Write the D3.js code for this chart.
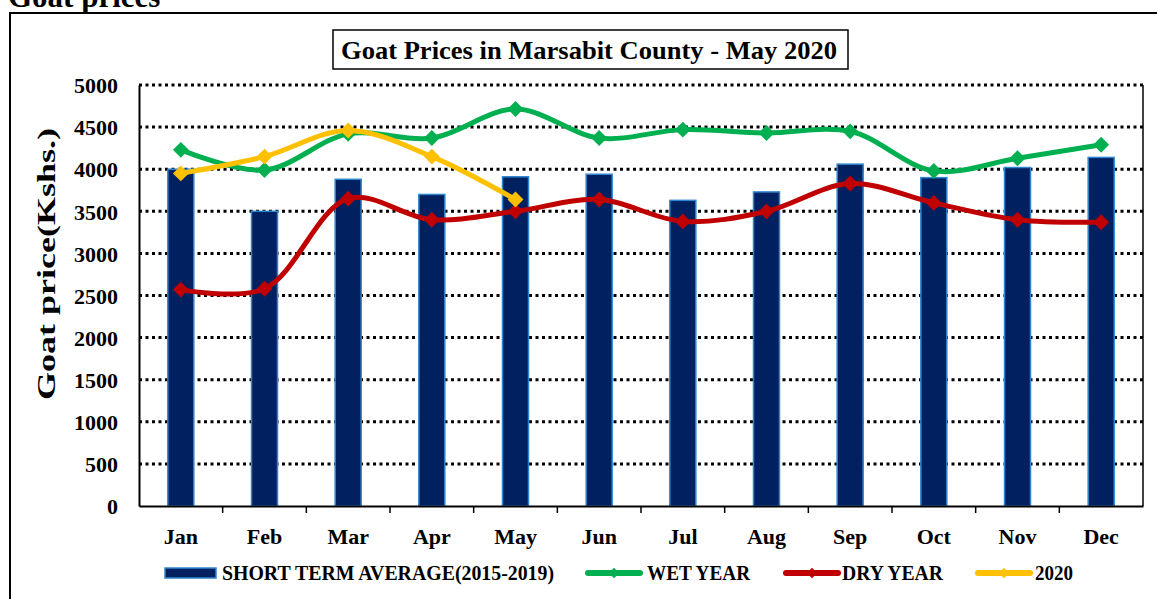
<!DOCTYPE html>
<html lang="en">
<head>
<meta charset="UTF-8" />
<title>Goat prices</title>
<script src="https://cdn.jsdelivr.net/npm/d3@7"></script>
<style>
  body { margin: 0; background: #fff; }
  text { font-family: "Liberation Serif", "Times New Roman", serif; font-weight: bold; fill: #000; }
</style>
</head>
<body>
<script>
// chart data
const months = ["Jan","Feb","Mar","Apr","May","Jun","Jul","Aug","Sep","Oct","Nov","Dec"];
const shortTermAvg = [4000, 3500, 3880, 3700, 3910, 3940, 3630, 3730, 4060, 3900, 4020, 4140];
const wetYear = [4230, 3990, 4420, 4370, 4715, 4370, 4470, 4430, 4450, 3980, 4130, 4290];
const dryYear = [2570, 2580, 3650, 3400, 3500, 3640, 3380, 3500, 3830, 3600, 3400, 3370];
const year2020 = [3950, 4150, 4460, 4150, 3640];
const yTicks = [0, 500, 1000, 1500, 2000, 2500, 3000, 3500, 4000, 4500, 5000];

const width = 1157, height = 599;
const plot = {left: 139, right: 1143, top: 85, bottom: 506};

const svg = d3.select("body").append("svg")
  .attr("width", width).attr("height", height);

// heading (cut off at the top, like the source page)
svg.append("text").attr("x", 8).attr("y", 7)
  .style("font-size", "31px").text("Goat prices");

// outer frame
svg.append("path")
  .attr("d", `M10,${height + 5} V13 H${width + 5}`)
  .attr("fill", "none").attr("stroke", "#000").attr("stroke-width", 2);

const x = d3.scaleBand().domain(months).range([plot.left, plot.right]);
const y = d3.scaleLinear().domain([0, 5000]).range([plot.bottom, plot.top]);

// gridlines
svg.append("g").selectAll("line").data(yTicks.filter(d => d > 0)).join("line")
  .attr("x1", plot.left).attr("x2", plot.right)
  .attr("y1", d => y(d)).attr("y2", d => y(d))
  .attr("stroke", "#000").attr("stroke-width", 3)
  .attr("stroke-dasharray", "3,3.5");

// right border of plot
svg.append("line").attr("x1", plot.right).attr("x2", plot.right)
  .attr("y1", plot.top).attr("y2", plot.bottom)
  .attr("stroke", "#000").attr("stroke-width", 1.5);

// bars
const barW = 26;
svg.append("g").selectAll("rect").data(shortTermAvg).join("rect")
  .attr("x", (d, i) => x(months[i]) + x.bandwidth() / 2 - barW / 2)
  .attr("y", d => y(d))
  .attr("width", barW)
  .attr("height", d => y(0) - y(d))
  .attr("fill", "#002060")
  .attr("stroke", "#2E86D0").attr("stroke-width", 1.5);

// y axis
const yAxis = svg.append("g").attr("transform", `translate(${plot.left},0)`)
  .call(d3.axisLeft(y).tickValues(yTicks).tickFormat(d3.format("d")).tickSize(0).tickPadding(21));
yAxis.select(".domain").attr("stroke", "#000").attr("stroke-width", 2);
yAxis.selectAll("text").style("font-size", "22px").attr("dy", "0.35em");

// x axis
const xAxis = svg.append("g").attr("transform", `translate(0,${plot.bottom})`)
  .call(d3.axisBottom(x).tickSize(0));
xAxis.select(".domain").attr("stroke", "#000").attr("stroke-width", 2);
xAxis.selectAll("text").style("font-size", "22px").attr("y", 38).attr("dy", 0);
svg.append("g").selectAll("line").data(months.slice(1)).join("line")
  .attr("x1", d => x(d)).attr("x2", d => x(d))
  .attr("y1", plot.bottom).attr("y2", plot.bottom + 7)
  .attr("stroke", "#000").attr("stroke-width", 1.5);

// lines
const cx = i => x(months[i]) + x.bandwidth() / 2;
const line = d3.line().x((d, i) => cx(i)).y(d => y(d)).curve(d3.curveCatmullRom.alpha(0.5));
const diamond = d3.symbol().type(d3.symbolDiamond2).size(160);

function series(data, color) {
  const g = svg.append("g");
  g.append("path").datum(data).attr("d", line)
    .attr("fill", "none").attr("stroke", color).attr("stroke-width", 5)
    .attr("stroke-linejoin", "round");
  g.selectAll("path.m").data(data).join("path").attr("class", "m")
    .attr("d", diamond)
    .attr("transform", (d, i) => `translate(${cx(i)},${y(d)})`)
    .attr("fill", color);
}
series(wetYear, "#00B050");
series(dryYear, "#C00000");
series(year2020, "#FFC000");

// title box
svg.append("rect").attr("x", 333).attr("y", 30).attr("width", 515).attr("height", 39)
  .attr("fill", "#fff").attr("stroke", "#000").attr("stroke-width", 1.5);
svg.append("text").attr("x", 341).attr("y", 59)
  .attr("textLength", 496).attr("lengthAdjust", "spacingAndGlyphs")
  .style("font-size", "26px").text("Goat Prices in Marsabit County - May 2020");

// y label
svg.append("text")
  .attr("transform", "translate(55,400) rotate(-90)")
  .attr("textLength", 272).attr("lengthAdjust", "spacingAndGlyphs")
  .style("font-size", "26px").text("Goat price(Kshs.)");

// legend
const ly = 573;
const legend = svg.append("g");
legend.append("rect").attr("x", 165).attr("y", 568).attr("width", 51).attr("height", 10)
  .attr("fill", "#002060").attr("stroke", "#2E86D0").attr("stroke-width", 1.5);
legend.append("text").attr("x", 222).attr("y", 580)
  .attr("textLength", 332).attr("lengthAdjust", "spacingAndGlyphs")
  .style("font-size", "21px").text("SHORT TERM AVERAGE(2015-2019)");

const legendItems = [
  {label: "WET YEAR", color: "#00B050", x: 585, tx: 647, tw: 103},
  {label: "DRY YEAR", color: "#C00000", x: 783, tx: 842, tw: 101},
  {label: "2020", color: "#FFC000", x: 975, tx: 1035, tw: 38}
];
legendItems.forEach(it => {
  legend.append("line").attr("x1", it.x + 3).attr("x2", it.x + 55)
    .attr("y1", ly).attr("y2", ly).attr("stroke", it.color).attr("stroke-width", 6)
    .attr("stroke-linecap", "round");
  legend.append("path").attr("d", d3.symbol().type(d3.symbolDiamond2).size(70))
    .attr("transform", `translate(${it.x + 29},${ly})`).attr("fill", it.color);
  legend.append("text").attr("x", it.tx).attr("y", 580)
    .attr("textLength", it.tw).attr("lengthAdjust", "spacingAndGlyphs")
    .style("font-size", "21px").text(it.label);
});
</script>
</body>
</html>
